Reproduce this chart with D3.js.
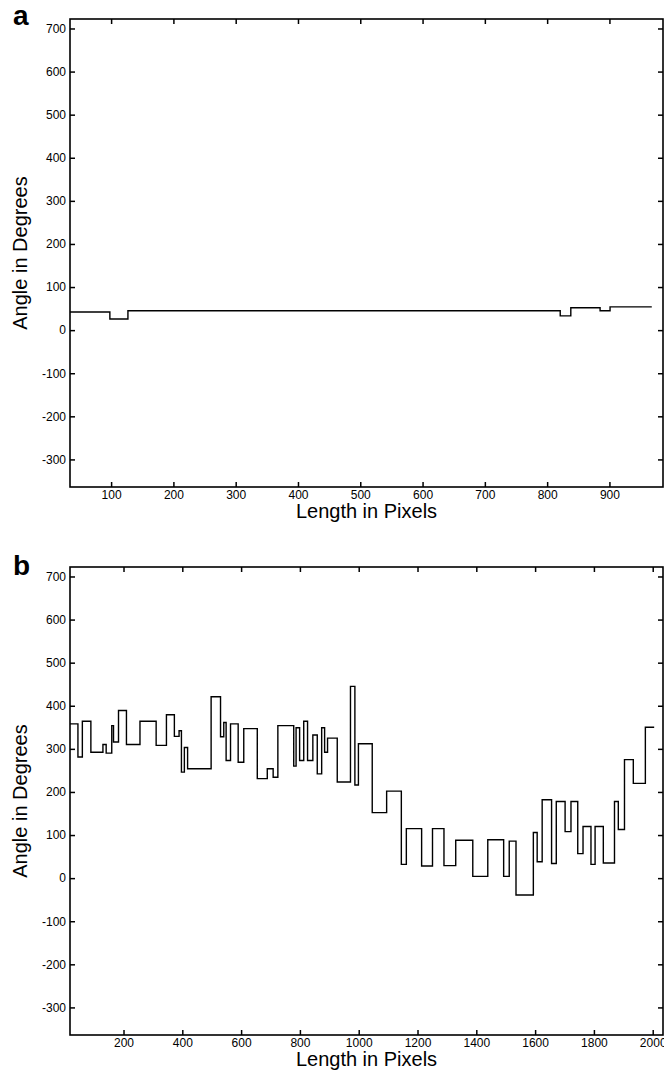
<!DOCTYPE html>
<html><head><meta charset="utf-8">
<script src="https://cdn.jsdelivr.net/npm/d3@7"></script>
<style>body{margin:0;background:#fff}svg{display:block}</style>
</head><body>
<svg id="c" width="664" height="1078"></svg>
<script>
// Panel a: step data (x start of each level, angle)
const aX = [34, 98, 127, 821, 838, 885, 901, 968];
const aY = [42, 26, 45, 33, 52, 45, 54, 54];
const aXTicks = [100, 200, 300, 400, 500, 600, 700, 800, 900];
const aXDomain = [34, 986];

// Panel b
const bX = [18, 45, 60, 89, 130, 141, 160, 166, 183, 210, 256, 311, 346, 373, 389, 397, 407, 418, 498, 530, 541, 549, 564, 590, 609, 655, 689, 709, 725, 779, 787, 799, 813, 826, 844, 859, 874, 884, 894, 927, 972, 987, 999, 1046, 1095, 1145, 1162, 1214, 1251, 1290, 1330, 1388, 1439, 1493, 1512, 1535, 1594, 1607, 1624, 1656, 1672, 1702, 1722, 1745, 1763, 1790, 1804, 1832, 1870, 1883, 1904, 1934, 1975, 2005];
const bY = [358, 281, 364, 292, 310, 290, 354, 316, 389, 310, 364, 308, 379, 329, 342, 246, 303, 254, 421, 328, 361, 273, 358, 269, 347, 231, 254, 234, 354, 260, 349, 273, 364, 273, 332, 242, 349, 292, 325, 223, 445, 216, 312, 152, 202, 32, 115, 28, 115, 29, 88, 4, 89, 4, 86, -39, 106, 38, 182, 34, 178, 108, 178, 57, 120, 32, 120, 35, 178, 113, 275, 220, 350, 350];
const bXTicks = [200, 400, 600, 800, 1000, 1200, 1400, 1600, 1800, 2000];
const bXDomain = [18, 2035];

const yTicks = [-300, -200, -100, 0, 100, 200, 300, 400, 500, 600, 700];
const yDomain = [-364, 722];

const svg = d3.select("#c");
const font = "'Liberation Sans', Arial, Helvetica, sans-serif";

function panel(letter, top, letterBase, xs, ys, xTicks, xDomain) {
  const L = 70, R = 663, T = top, B = top + 468;
  const x = d3.scaleLinear().domain(xDomain).range([L, R]);
  const y = d3.scaleLinear().domain(yDomain).range([B, T]);
  const g = svg.append("g");
  const tl = 5;
  const axB = d3.axisBottom(x).tickValues(xTicks).tickSizeInner(-tl).tickSizeOuter(0).tickPadding(3).tickFormat(d3.format("d"));
  const gb = g.append("g").attr("transform", `translate(0,${B})`).call(axB);
  const axT = d3.axisTop(x).tickValues(xTicks).tickSizeInner(-tl).tickSizeOuter(0).tickFormat("");
  const gt = g.append("g").attr("transform", `translate(0,${T})`).call(axT);
  const axL = d3.axisLeft(y).tickValues(yTicks).tickSizeInner(-tl).tickSizeOuter(0).tickPadding(4).tickFormat(d => String(d));
  const gl = g.append("g").attr("transform", `translate(${L},0)`).call(axL);
  const axR = d3.axisRight(y).tickValues(yTicks).tickSizeInner(-tl).tickSizeOuter(0).tickFormat("");
  const gr = g.append("g").attr("transform", `translate(${R},0)`).call(axR);
  [gb, gt, gl, gr].forEach(a => {
    a.select(".domain").remove();
    a.selectAll(".tick line").attr("stroke", "#000").attr("stroke-width", 1.5);
    a.selectAll("text").attr("font-family", font).attr("font-size", 12).attr("fill", "#000");
  });
  g.append("rect").attr("x", L).attr("y", T).attr("width", R - L).attr("height", B - T)
    .attr("fill", "none").attr("stroke", "#000").attr("stroke-width", 1.6);
  const pts = xs.map((v, i) => [v, ys[i]]);
  const line = d3.line().x(d => x(d[0])).y(d => y(d[1])).curve(d3.curveStepAfter);
  g.append("path").attr("d", line(pts)).attr("fill", "none").attr("stroke", "#000").attr("stroke-width", 1.4);
  g.append("text").attr("x", (L + R) / 2).attr("y", B + 31).attr("text-anchor", "middle")
    .attr("font-family", font).attr("font-size", 20).text("Length in Pixels");
  g.append("text").attr("transform", `translate(27,${(T + B) / 2}) rotate(-90)`).attr("text-anchor", "middle")
    .attr("font-family", font).attr("font-size", 20).text("Angle in Degrees");
  g.append("text").attr("x", 13).attr("y", letterBase).attr("font-family", font).attr("font-weight", "bold")
    .attr("font-size", 28).text(letter);
}

panel("a", 19, 25, aX, aY, aXTicks, aXDomain);
panel("b", 567, 575, bX, bY, bXTicks, bXDomain);
</script>
</body></html>
